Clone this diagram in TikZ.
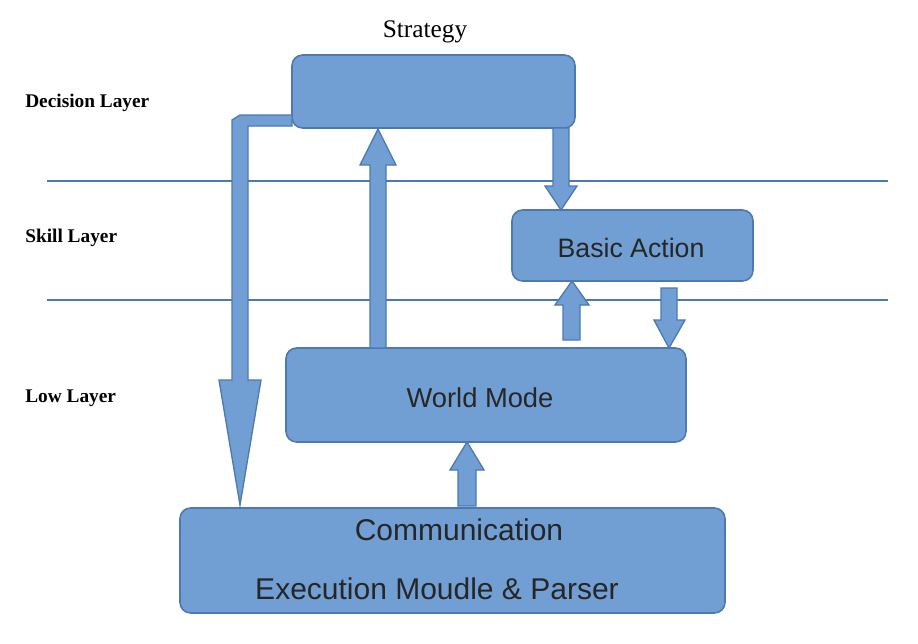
\documentclass[tikz,border=0pt]{standalone}
\usepackage{fontspec}
\setmainfont{Liberation Serif}
\newfontfamily\sansf{Liberation Sans}
\begin{document}
\begin{tikzpicture}[x=0.75pt,y=-0.75pt,
 box/.style={draw=boxline,fill=boxfill,line width=1.2pt,rounded corners=8pt},
 blk/.style={draw=boxline,fill=boxfill,line width=1pt,line join=miter},
 lay/.style={draw=boxline,line width=1pt},
 lbl/.style={font=\bfseries\fontsize{14.5}{17}\selectfont,anchor=west},
 btxt/.style={font=\sansf\fontsize{20}{23}\selectfont,text=black!85}]
\definecolor{boxfill}{HTML}{729FD3}
\definecolor{boxline}{HTML}{4C79B3}
\useasboundingbox (0,0) rectangle (918,643);
\fill[white] (0,0) rectangle (918,643);
% layer lines
\coordinate (l1a) at (47,181); \coordinate (l1b) at (888,181);
\coordinate (l2a) at (47,300); \coordinate (l2b) at (888,300);
\draw[lay] (l1a) -- (l1b);
\draw[lay] (l2a) -- (l2b);
% labels
\node[lbl,inner sep=0pt] (ld) at (25,103) {Decision Layer};
\node[lbl,inner sep=0pt] (ls) at (25,238) {Skill Layer};
\node[lbl,inner sep=0pt] (ll) at (25,398) {Low Layer};
\node[font=\fontsize{19}{22}\selectfont] (st) at (425,32) {Strategy};
% boxes
\draw[box] (292,55) rectangle (575,128); \node (dec) at (433,91) {};
\draw[box] (512,210) rectangle (753,281);
\node[btxt] (ba) at (631,248) {Basic Action};
\draw[box] (286,348) rectangle (686,442);
\node[btxt,font=\sansf\fontsize{20.5}{23}\selectfont] (wm) at (480,398) {World Mode};
\draw[box] (180,508) rectangle (725,613);
\node[btxt,font=\sansf\fontsize{22.5}{26}\selectfont] (cm) at (459,530) {Communication};
\node[btxt,font=\sansf\fontsize{22.5}{26}\selectfont] (ex) at (437,589) {Execution Moudle \& Parser};
% block arrows
\draw[blk] (370,348) -- (370,165) -- (360,165) -- (378,129) -- (396,165) -- (386,165) -- (386,348) -- cycle;
\draw[blk] (553,128) -- (553,186) -- (545,186) -- (561,210) -- (577,186) -- (569,186) -- (569,128) -- cycle;
\draw[blk] (563,340) -- (563,305) -- (555,305) -- (572,281) -- (589,305) -- (580,305) -- (580,340) -- cycle;
\draw[blk] (661,288) -- (661,320) -- (654,320) -- (669,348) -- (685,320) -- (677,320) -- (677,288) -- cycle;
\draw[blk] (458,506) -- (458,470) -- (450,470) -- (467,442) -- (484,470) -- (476,470) -- (476,506) -- cycle;
\draw[blk] (292,115) -- (240,115) -- (232,120) -- (232,380) -- (219,380) -- (240,505) -- (261,380) -- (248,380) -- (248,126) -- (292,126) -- cycle;
\end{tikzpicture}
\end{document}
